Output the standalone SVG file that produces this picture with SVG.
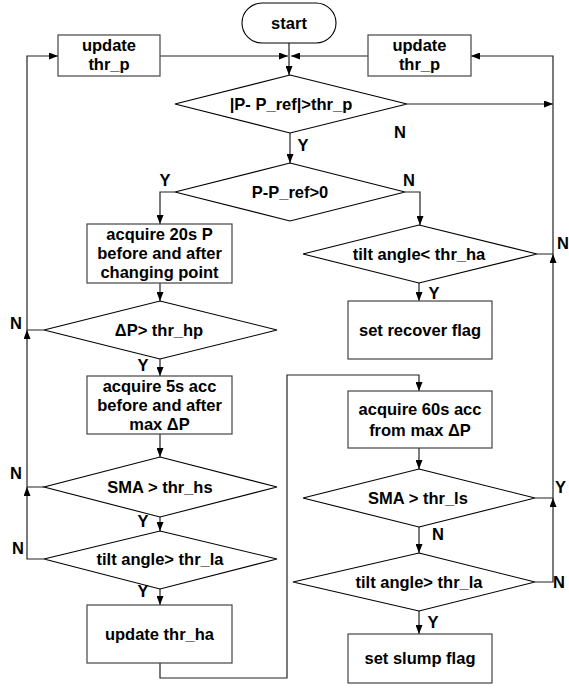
<svg xmlns="http://www.w3.org/2000/svg" width="569" height="694" viewBox="0 0 569 694">
<defs>
<marker id="ah" viewBox="0 0 9 7" refX="9" refY="3.5" markerWidth="9" markerHeight="7" markerUnits="userSpaceOnUse" orient="auto">
<path d="M0,0 L9,3.5 L0,7 z" fill="#000"/>
</marker>
<style>
text{font-family:"Liberation Sans",Arial,sans-serif;font-weight:bold;font-size:16.5px;fill:#000;text-anchor:middle}
.lbl{text-anchor:start}
.box{fill:#fff;stroke:#444;stroke-width:1.2}
.dia{fill:#fff;stroke:#000;stroke-width:1.1}
.ln{fill:none;stroke:#222;stroke-width:1.2}
.ar{marker-end:url(#ah)}
</style>
</defs>
<rect width="569" height="694" fill="#fff"/>
<g id="connectors">
<path class="ln ar" d="M289,43 V75"/>
<path class="ln ar" d="M160,56 H288"/>
<path class="ln ar" d="M368,56 H291"/>
<path class="ln ar" d="M290,133 V163"/>
<path class="ln ar" d="M407,104 H553"/>
<path class="ln ar" d="M535,582 H553 V498"/>
<path class="ln ar" d="M535,498 H553 V254"/>
<path class="ln ar" d="M537,254 H553 V56 H471"/>
<path class="ln ar" d="M175,192 H160 V224"/>
<path class="ln ar" d="M405,192 H420 V225"/>
<path class="ln ar" d="M160,283 V301"/>
<path class="ln ar" d="M44,330 H27 V56 H58"/>
<path class="ln ar" d="M44,487 H27 V330"/>
<path class="ln ar" d="M44,559 H27 V487"/>
<path class="ln ar" d="M160,359 V376"/>
<path class="ln ar" d="M160,434 V457"/>
<path class="ln ar" d="M160,517 V531"/>
<path class="ln ar" d="M160,589 V605"/>
<path class="ln ar" d="M160,663 V678 H287 V375 H419 V391"/>
<path class="ln ar" d="M419,283 V301"/>
<path class="ln ar" d="M419,448 V469"/>
<path class="ln ar" d="M419,527 V553"/>
<path class="ln ar" d="M419,611 V634"/>
</g>
<g id="start">
<rect x="242" y="3" width="94" height="40" rx="20" ry="20" class="dia"/>
<text x="289" y="29">start</text>
</g>
<g id="update_thr_p_left">
<rect x="58" y="35" width="102" height="41" class="box"/>
<text x="109" y="51">update</text>
<text x="109" y="70">thr_p</text>
</g>
<g id="update_thr_p_right">
<rect x="368" y="35" width="103" height="41" class="box"/>
<text x="419.5" y="51">update</text>
<text x="419.5" y="70">thr_p</text>
</g>
<g id="d_abs">
<polygon points="290,75 407,104 290,133 175,104" class="dia"/>
<text x="291" y="110">|P- P_ref|&gt;thr_p</text>
</g>
<g id="d_sign">
<polygon points="290,163 405,192 290,221 175,192" class="dia"/>
<text x="290" y="198">P-P_ref&gt;0</text>
</g>
<g id="acq20">
<rect x="87" y="224" width="145" height="59" class="box"/>
<text x="159.5" y="240">acquire 20s P</text>
<text x="159.5" y="259">before and after</text>
<text x="159.5" y="278">changing point</text>
</g>
<g id="d_dp">
<polygon points="160,301 277,330 160,359 44,330" class="dia"/>
<text x="159" y="336">ΔP&gt; thr_hp</text>
</g>
<g id="acq5">
<rect x="87" y="376" width="145" height="58" class="box"/>
<text x="159.5" y="392">acquire 5s acc</text>
<text x="159.5" y="411">before and after</text>
<text x="159.5" y="430">max ΔP</text>
</g>
<g id="d_sma_hs">
<polygon points="160,457 277,487 160,517 44,487" class="dia"/>
<text x="160" y="493">SMA &gt; thr_hs</text>
</g>
<g id="d_tilt_la_left">
<polygon points="160,531 277,559 160,589 44,559" class="dia"/>
<text x="160" y="565">tilt angle&gt; thr_la</text>
</g>
<g id="upd_ha">
<rect x="87" y="605" width="145" height="58" class="box"/>
<text x="159.5" y="640">update thr_ha</text>
</g>
<g id="d_tilt_ha">
<polygon points="419,225 537,254 419,283 303,254" class="dia"/>
<text x="419" y="260">tilt angle&lt; thr_ha</text>
</g>
<g id="recover">
<rect x="348" y="301" width="144" height="58" class="box"/>
<text x="420" y="336">set recover flag</text>
</g>
<g id="acq60">
<rect x="348" y="391" width="144" height="57" class="box"/>
<text x="420" y="415">acquire 60s acc</text>
<text x="420" y="436">from max ΔP</text>
</g>
<g id="d_sma_ls">
<polygon points="419,469 535,498 419,527 303,498" class="dia"/>
<text x="418" y="504">SMA &gt; thr_ls</text>
</g>
<g id="d_tilt_la_right">
<polygon points="419,553 535,582 419,611 293,582" class="dia"/>
<text x="419" y="588">tilt angle&gt; thr_la</text>
</g>
<g id="slump">
<rect x="348" y="634" width="144" height="49" class="box"/>
<text x="420" y="664">set slump flag</text>
</g>
<g id="labels">
<text x="400" y="138">N</text>
<text x="303" y="151">Y</text>
<text x="165" y="186">Y</text>
<text x="409" y="186">N</text>
<text class="lbl" x="557" y="249">N</text>
<text x="434" y="299">Y</text>
<text x="16" y="329">N</text>
<text x="143" y="371">Y</text>
<text x="16" y="479">N</text>
<text class="lbl" x="555" y="493">Y</text>
<text x="143" y="527">Y</text>
<text x="438" y="540">N</text>
<text x="18" y="554">N</text>
<text class="lbl" x="553" y="588">N</text>
<text x="143" y="597">Y</text>
<text x="433" y="628">Y</text>
</g>
</svg>
